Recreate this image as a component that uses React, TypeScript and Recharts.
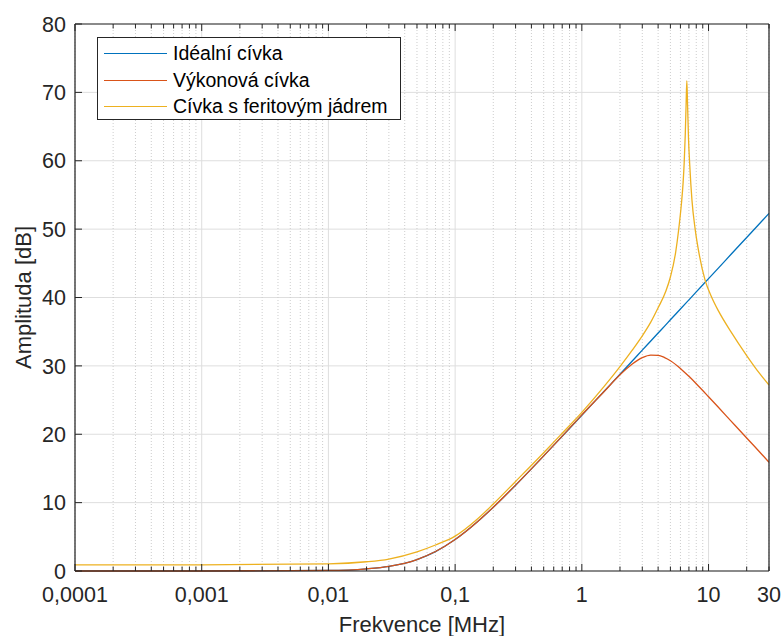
import { LineChart, Line, XAxis, YAxis, CartesianGrid, Legend } from 'recharts'

// frekvence v MHz (ideální a výkonová cívka)
const frequency = [
  0.0001, 0.001, 0.01, 0.02, 0.03, 0.05, 0.07, 0.1, 0.15, 0.2, 0.3, 0.5, 0.7,
  1, 1.5, 2, 2.5, 3, 3.5, 4, 4.5, 5, 6, 7, 8, 10, 12, 15, 20, 25, 30,
]

// amplitudy v dB
const idealCoil = [
  0, 0, 0.08, 0.32, 0.68, 1.68, 2.84, 4.6, 7.2, 9.32, 12.55, 16.83, 19.71,
  22.78, 26.29, 28.78, 30.72, 32.3, 33.64, 34.8, 35.82, 36.74, 38.32, 39.66, 40.82, 42.76, 44.34,
  46.28, 48.78, 50.72, 52.3,
]
const powerCoil = [
  0, 0, 0.08, 0.32, 0.68, 1.68, 2.85, 4.61, 7.21, 9.33, 12.56, 16.84, 19.73,
  22.83, 26.25, 28.69, 30.27, 31.2, 31.57, 31.54, 31.22, 30.76, 29.63, 28.47, 27.39, 25.49, 23.91,
  21.96, 19.45, 17.52, 15.9,
]

// cívka s feritem má ostrou rezonanci, proto hustší body
const ferriteFrequency = [
  0.0001, 0.001, 0.01, 0.02, 0.03, 0.05, 0.07, 0.1, 0.15, 0.2, 0.3, 0.5, 0.7,
  1, 1.5, 2, 2.5, 3, 3.5, 4, 4.6, 5, 5.5, 5.8, 6.1, 6.3, 6.42, 6.55, 6.65, 6.74,
  6.83, 6.95, 7.11, 7.4, 7.84, 8.5, 9.4, 10.5, 12, 15, 20, 25, 30,
]
const ferriteCoil = [
  0.9, 0.9, 1.05, 1.35, 1.75, 2.8, 3.8, 5.1, 7.6, 9.8, 13.1, 17.3, 20.15,
  23.2, 27.0, 29.9, 32.3, 34.4, 36.4, 38.5, 40.9, 43.0, 46.6, 49.8, 53.6, 56.8, 59.6, 63.8, 68.2, 71.7,
  68.2, 63.2, 59.3, 54.2, 50.0, 46.0, 42.5, 40.2, 38.0, 35.0, 31.5, 29.0, 27.2,
]

const seriesNames = ['Idéalní cívka', 'Výkonová cívka', 'Cívka s feritovým jádrem']
const seriesColors = ['#0072BD', '#D95319', '#EDB120']

const majorTicks = [0.0001, 0.001, 0.01, 0.1, 1, 10]
const labelTicks = [0.0001, 0.001, 0.01, 0.1, 1, 10, 30]
const labelTexts = ['0,0001', '0,001', '0,01', '0,1', '1', '10', '30']
const minorTicks = [
  0.0002, 0.0003, 0.0004, 0.0005, 0.0006, 0.0007, 0.0008, 0.0009,
  0.002, 0.003, 0.004, 0.005, 0.006, 0.007, 0.008, 0.009,
  0.02, 0.03, 0.04, 0.05, 0.06, 0.07, 0.08, 0.09,
  0.2, 0.3, 0.4, 0.5, 0.6, 0.7, 0.8, 0.9,
  2, 3, 4, 5, 6, 7, 8, 9,
  20,
]
const allTicks = [...majorTicks, ...minorTicks, 30].sort((a, b) => a - b)
const yTicks = [0, 10, 20, 30, 40, 50, 60, 70, 80]

const idealData = frequency.map((f, i) => ({ f, v: idealCoil[i] }))
const powerData = frequency.map((f, i) => ({ f, v: powerCoil[i] }))
const ferriteData = ferriteFrequency.map((f, i) => ({ f, v: ferriteCoil[i] }))
const seriesData = [idealData, powerData, ferriteData]

const FONT = '"Liberation Sans", Arial, Helvetica, sans-serif'
const INK = '#262626'
const BOTTOM_GAP = 16

function BottomTick(props: any) {
  const { x, y, payload } = props
  const v = payload.value
  const axisY = y - BOTTOM_GAP
  const len = majorTicks.includes(v) ? 7 : 4.5
  const idx = labelTicks.indexOf(v)
  return (
    <g>
      <line x1={x} x2={x} y1={axisY} y2={axisY - len} stroke={INK} strokeWidth={1} />
      {idx >= 0 && (
        <text x={x} y={y} dy="0.71em" textAnchor="middle" fill={INK} fontSize={21.5} fontFamily={FONT}>
          {labelTexts[idx]}
        </text>
      )}
    </g>
  )
}

function TopTick(props: any) {
  const { x, y, payload } = props
  const len = majorTicks.includes(payload.value) ? 7 : 4.5
  return <line x1={x} x2={x} y1={y} y2={y + len} stroke={INK} strokeWidth={1} />
}

function LegendBox() {
  const rowHeights = [27, 26, 27]
  return (
    <div
      style={{
        boxSizing: 'border-box',
        width: 304,
        height: 83,
        border: `1px solid ${INK}`,
        background: '#fff',
        paddingTop: 2,
        fontFamily: FONT,
        fontSize: 19.5,
        color: '#000',
      }}
    >
      {seriesNames.map((name, i) => (
        <div key={name} style={{ display: 'flex', alignItems: 'center', height: rowHeights[i] }}>
          <div style={{ marginLeft: 6, width: 63, height: 0, borderTop: `1px solid ${seriesColors[i]}` }} />
          <span style={{ marginLeft: 6, whiteSpace: 'nowrap' }}>{name}</span>
        </div>
      ))}
    </div>
  )
}

const xCommon = {
  type: 'number' as const,
  scale: 'log' as const,
  domain: [0.0001, 30],
  allowDataOverflow: true,
  dataKey: 'f',
}

export default function App() {
  return (
    <div style={{ position: 'absolute', left: 0, top: 0 }}>
      <LineChart
        width={783}
        height={636}
        margin={{ top: 0, right: 0, bottom: 0, left: 0 }}
        style={{ fontFamily: FONT }}
      >
        <XAxis {...xCommon} xAxisId="maj" hide ticks={majorTicks} interval={0} />
        <XAxis {...xCommon} xAxisId="min" hide ticks={minorTicks} interval={0} />
        <CartesianGrid xAxisId="maj" yAxisId="l" stroke="#dedede" strokeWidth={1} />
        <CartesianGrid
          xAxisId="min"
          yAxisId="l"
          horizontal={false}
          stroke="#cdcdcd"
          strokeWidth={1}
          strokeDasharray="1 2"
        />
        <XAxis
          {...xCommon}
          xAxisId="b"
          orientation="bottom"
          height={65}
          ticks={allTicks}
          interval={0}
          tickSize={0}
          tickMargin={BOTTOM_GAP}
          tickLine={false}
          tick={<BottomTick />}
          axisLine={{ stroke: INK, strokeWidth: 1.2 }}
          label={{
            value: 'Frekvence [MHz]',
            position: 'insideBottom',
            offset: 4,
            fill: INK,
            fontSize: 22,
            fontFamily: FONT,
          }}
        />
        <XAxis
          {...xCommon}
          xAxisId="t"
          orientation="top"
          height={24}
          ticks={allTicks}
          interval={0}
          tickSize={0}
          tickMargin={0}
          tickLine={false}
          tick={<TopTick />}
          axisLine={{ stroke: INK, strokeWidth: 1.2 }}
        />
        <YAxis
          yAxisId="l"
          type="number"
          domain={[0, 80]}
          ticks={yTicks}
          interval={0}
          width={75}
          tickSize={-7}
          tickMargin={16}
          tickLine={{ stroke: INK }}
          axisLine={{ stroke: INK, strokeWidth: 1.2 }}
          tick={{ fill: INK, fontSize: 21.5, fontFamily: FONT }}
          label={{
            value: 'Amplituda [dB]',
            angle: -90,
            position: 'insideLeft',
            offset: 23,
            fill: INK,
            fontSize: 22,
            fontFamily: FONT,
            style: { textAnchor: 'middle' },
          }}
        />
        <YAxis
          yAxisId="r"
          orientation="right"
          type="number"
          domain={[0, 80]}
          ticks={yTicks}
          interval={0}
          width={14}
          tickSize={-7}
          tickLine={{ stroke: INK }}
          axisLine={{ stroke: INK, strokeWidth: 1.2 }}
          tickFormatter={() => ''}
        />
        {seriesNames.map((name, i) => (
          <Line
            key={name}
            xAxisId="b"
            yAxisId="l"
            type="monotone"
            data={seriesData[i]}
            dataKey="v"
            name={name}
            stroke={seriesColors[i]}
            strokeWidth={1.3}
            dot={false}
            isAnimationActive={false}
          />
        ))}
        <Legend
          layout="vertical"
          align="center"
          verticalAlign="middle"
          content={<LegendBox />}
          wrapperStyle={{ left: 97, top: 37, width: 'auto', height: 'auto' }}
        />
      </LineChart>
    </div>
  )
}
